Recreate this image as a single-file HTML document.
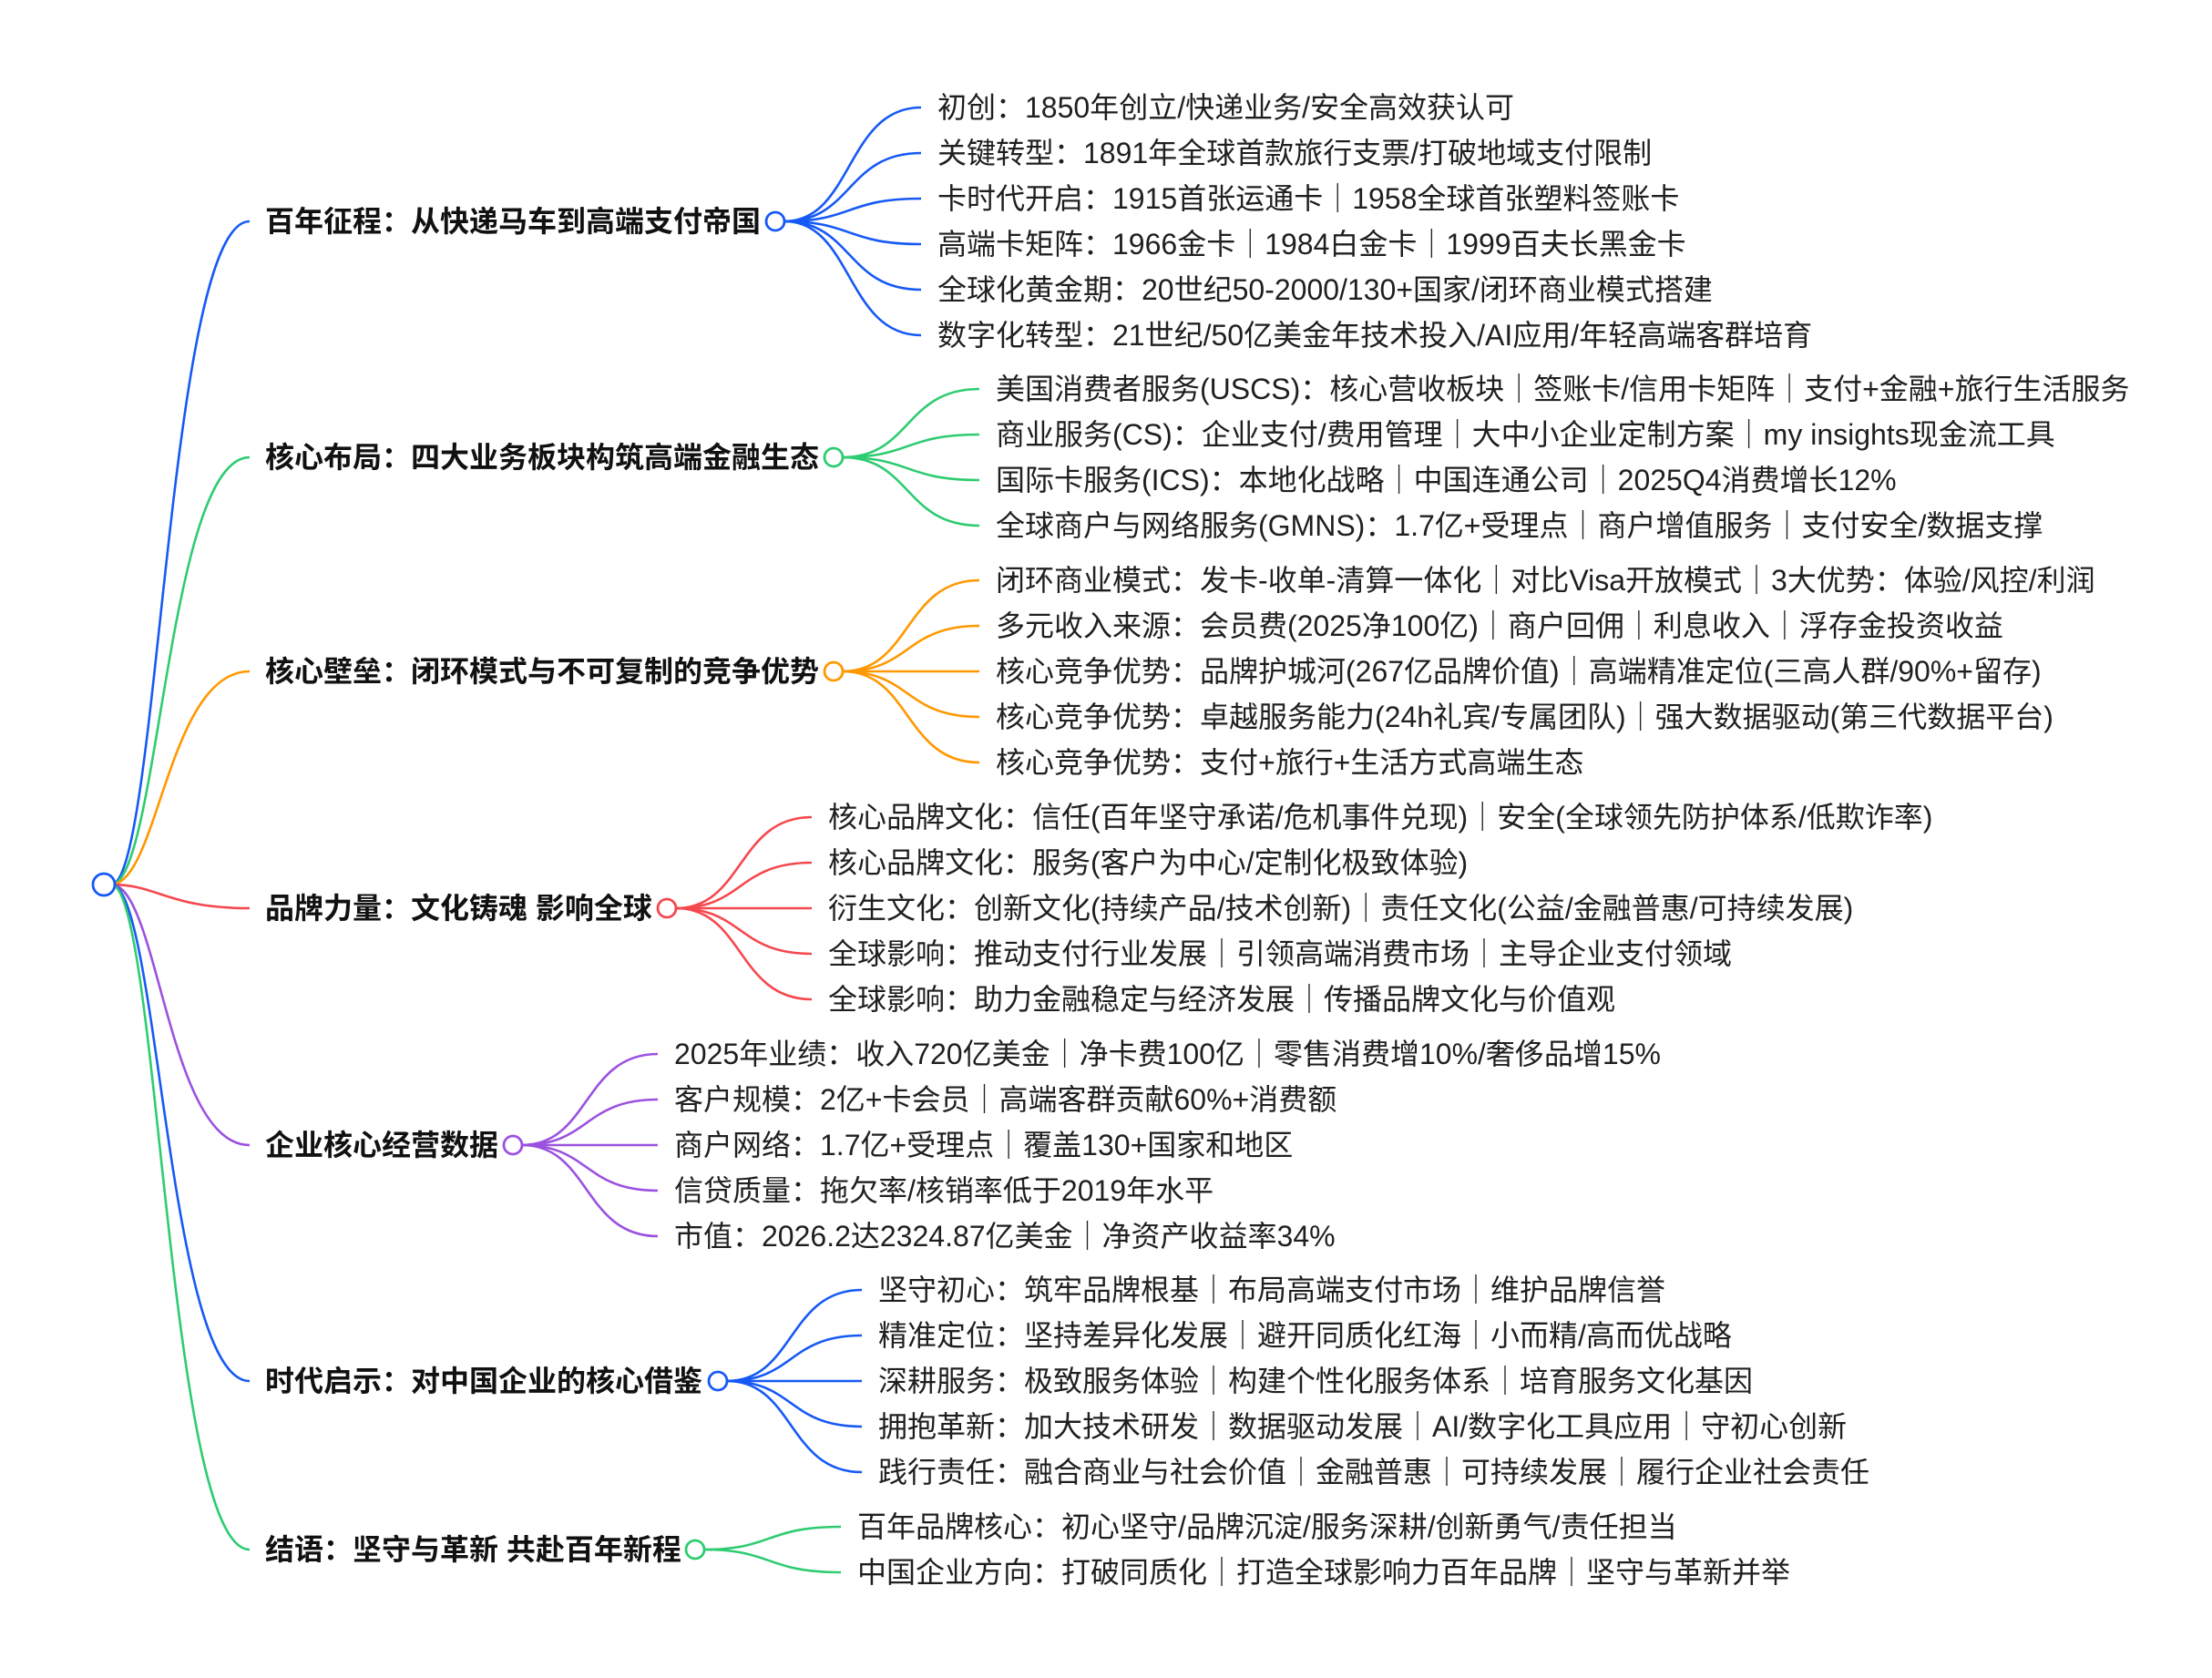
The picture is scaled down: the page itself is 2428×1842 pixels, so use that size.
<!DOCTYPE html>
<html><head><meta charset="utf-8"><style>
html,body{margin:0;padding:0;background:#fff}
svg{display:block}
text{font-family:"Liberation Sans","Noto Sans CJK SC",sans-serif;font-size:32px;fill:#1f1f1f;dominant-baseline:central}
.b{font-weight:bold;fill:#111}
path{fill:none;stroke-width:2.6}
circle{fill:#fff;stroke-width:2.8}
</style></head><body>
<svg width="2428" height="1842" viewBox="0 0 2428 1842" xmlns="http://www.w3.org/2000/svg">
<g id="g"></g>
</svg>
<script>
const data=[
 {c:"#1659f5",y:243,cx:851,lx:1029,ly:118,t:"百年征程：从快递马车到高端支付帝国",L:["初创：1850年创立/快递业务/安全高效获认可","关键转型：1891年全球首款旅行支票/打破地域支付限制","卡时代开启：1915首张运通卡｜1958全球首张塑料签账卡","高端卡矩阵：1966金卡｜1984白金卡｜1999百夫长黑金卡","全球化黄金期：20世纪50-2000/130+国家/闭环商业模式搭建","数字化转型：21世纪/50亿美金年技术投入/AI应用/年轻高端客群培育"]},
 {c:"#2ecc71",y:502,cx:915,lx:1093,ly:427,t:"核心布局：四大业务板块构筑高端金融生态",L:["美国消费者服务(USCS)：核心营收板块｜签账卡/信用卡矩阵｜支付+金融+旅行生活服务","商业服务(CS)：企业支付/费用管理｜大中小企业定制方案｜my insights现金流工具","国际卡服务(ICS)：本地化战略｜中国连通公司｜2025Q4消费增长12%","全球商户与网络服务(GMNS)：1.7亿+受理点｜商户增值服务｜支付安全/数据支撑"]},
 {c:"#ff9800",y:737,cx:915,lx:1093,ly:637,t:"核心壁垒：闭环模式与不可复制的竞争优势",L:["闭环商业模式：发卡-收单-清算一体化｜对比Visa开放模式｜3大优势：体验/风控/利润","多元收入来源：会员费(2025净100亿)｜商户回佣｜利息收入｜浮存金投资收益","核心竞争优势：品牌护城河(267亿品牌价值)｜高端精准定位(三高人群/90%+留存)","核心竞争优势：卓越服务能力(24h礼宾/专属团队)｜强大数据驱动(第三代数据平台)","核心竞争优势：支付+旅行+生活方式高端生态"]},
 {c:"#f5484e",y:997,cx:732,lx:909,ly:897,t:"品牌力量：文化铸魂 影响全球",L:["核心品牌文化：信任(百年坚守承诺/危机事件兑现)｜安全(全球领先防护体系/低欺诈率)","核心品牌文化：服务(客户为中心/定制化极致体验)","衍生文化：创新文化(持续产品/技术创新)｜责任文化(公益/金融普惠/可持续发展)","全球影响：推动支付行业发展｜引领高端消费市场｜主导企业支付领域","全球影响：助力金融稳定与经济发展｜传播品牌文化与价值观"]},
 {c:"#9b51e0",y:1257,cx:563,lx:740,ly:1157,t:"企业核心经营数据",L:["2025年业绩：收入720亿美金｜净卡费100亿｜零售消费增10%/奢侈品增15%","客户规模：2亿+卡会员｜高端客群贡献60%+消费额","商户网络：1.7亿+受理点｜覆盖130+国家和地区","信贷质量：拖欠率/核销率低于2019年水平","市值：2026.2达2324.87亿美金｜净资产收益率34%"]},
 {c:"#1659f5",y:1516,cx:788,lx:964,ly:1416,t:"时代启示：对中国企业的核心借鉴",L:["坚守初心：筑牢品牌根基｜布局高端支付市场｜维护品牌信誉","精准定位：坚持差异化发展｜避开同质化红海｜小而精/高而优战略","深耕服务：极致服务体验｜构建个性化服务体系｜培育服务文化基因","拥抱革新：加大技术研发｜数据驱动发展｜AI/数字化工具应用｜守初心创新","践行责任：融合商业与社会价值｜金融普惠｜可持续发展｜履行企业社会责任"]},
 {c:"#2ecc71",y:1701,cx:763,lx:941,ly:1676,t:"结语：坚守与革新 共赴百年新程",L:["百年品牌核心：初心坚守/品牌沉淀/服务深耕/创新勇气/责任担当","中国企业方向：打破同质化｜打造全球影响力百年品牌｜坚守与革新并举"]}
];
const ns="http://www.w3.org/2000/svg",g=document.getElementById("g");
function el(n,a,txt){const e=document.createElementNS(ns,n);for(const k in a)e.setAttribute(k,a[k]);if(txt)e.textContent=txt;g.appendChild(e);return e;}
const rx=114,ry=971;
data.forEach(d=>{
 el("path",{d:`M${rx+8} ${ry} C ${rx+60} ${ry}, ${rx+70} ${d.y}, 274 ${d.y}`,stroke:d.c});
});
data.forEach(d=>{
 el("text",{x:291,y:d.y,class:"b"},d.t);
 const x0=d.cx+10,x1=d.lx-18;
 d.L.forEach((s,i)=>{
  const ly=d.ly+i*50,m=(x1-x0)*0.5;
  el("path",{d:`M${x0} ${d.y} C ${x0+m} ${d.y}, ${x0+m*0.9} ${ly}, ${x1} ${ly}`,stroke:d.c});
  el("text",{x:d.lx,y:ly},s);
 });
 el("circle",{cx:d.cx,cy:d.y,r:10,stroke:d.c});
});
el("circle",{cx:rx,cy:ry,r:12,stroke:"#1659f5"});
</script>
</body></html>
